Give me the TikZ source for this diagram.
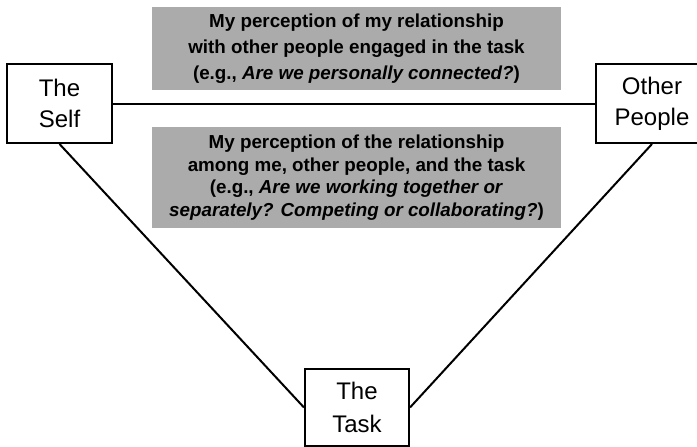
\documentclass[tikz,border=0pt]{standalone}
\usepackage{fontspec}
\setmainfont{Liberation Sans}
\begin{document}
\begin{tikzpicture}[x=1pt,y=-1pt,
  framebox/.style={draw=black,line width=2pt,fill=white,inner sep=0pt,
    align=center,font=\fontsize{24}{31}\selectfont},
  greybox/.style={fill=black!33,inner sep=0pt,align=center,
    font=\fontsize{18.8}{26}\selectfont\bfseries},
  link/.style={line width=2pt,draw=black}]
\useasboundingbox (0,0) rectangle (697,447);
\clip (0,0) rectangle (697,447);
\node[greybox,minimum width=409pt,minimum height=83pt] (g1) at (356.5,48.5)
  {My perception of my relationship\\with other people engaged in the task\\(e.g., \textit{Are we personally connected?})};
\node[greybox,minimum width=409pt,minimum height=101pt,
  font=\fontsize{18.8}{22.5}\selectfont\bfseries] (g2) at (356.5,177.5)
  {My perception of the relationship\\among me, other people, and the task\\(e.g., \textit{Are we working together or}\\\textit{separately? Competing or collaborating?})};
\node[framebox,minimum width=105pt,minimum height=79pt] (self) at (59.5,103.5) {The\\Self};
\node[framebox,minimum width=112pt,minimum height=79pt] (other) at (652,103.5) {Other\\People};
\node[framebox,minimum width=104pt,minimum height=77pt,
  font=\fontsize{24}{33}\selectfont] (task) at (357,407.5) {The\\Task};
\draw[link] (self.east) -- (other.west);
\draw[link] (self.south) -- (task.west);
\draw[link] (other.south) -- (task.east);
\end{tikzpicture}
\end{document}
